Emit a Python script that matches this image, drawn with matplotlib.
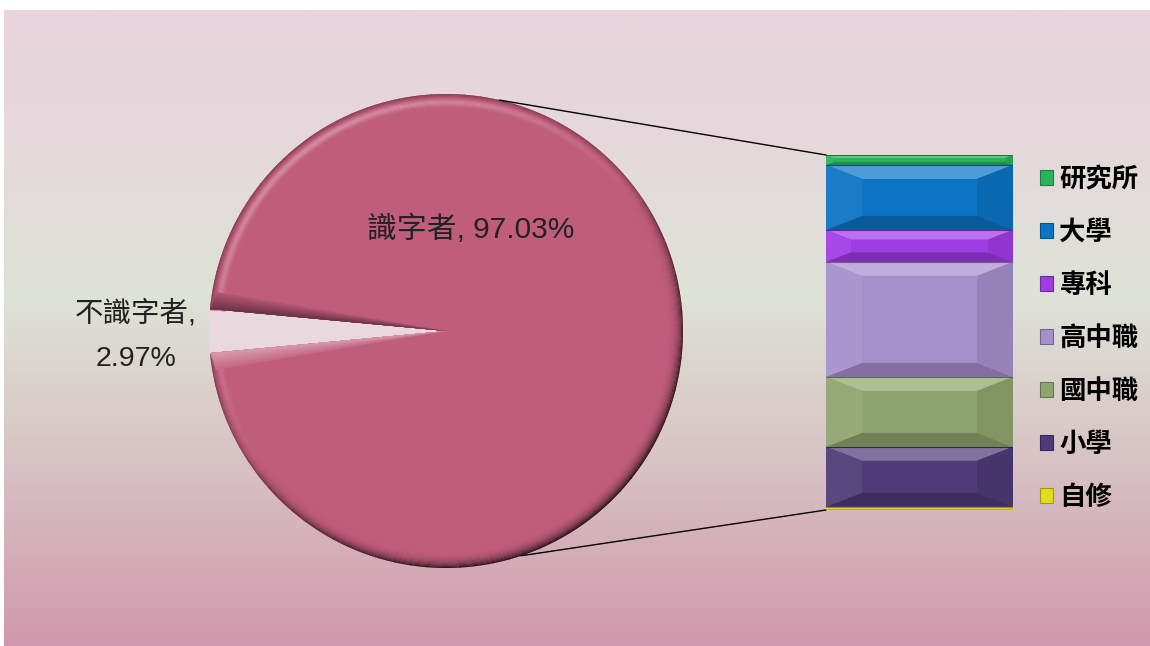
import numpy as np
import matplotlib.pyplot as plt
import matplotlib.colors as mcolors
from matplotlib.patches import Polygon, Rectangle, Wedge, ConnectionPatch

plt.rcParams['font.family'] = ['Liberation Sans', 'Noto Sans CJK TC', 'DejaVu Sans']

# pie: literate vs not literate
pie_labels = ['識字者', '不識字者']
pie_values = [97.03, 2.97]

# breakdown of literates (bottom to top of the stacked bar)
edu_levels = ['自修', '小學', '國中職', '高中職', '專科', '大學', '研究所']
edu_values = [0.9, 16.9, 19.7, 32.4, 9.0, 18.3, 2.8]
edu_colors = ['#E4DC1E', '#4E3B78', '#8FA56E', '#A690CC', '#A03CE6', '#0B74C4', '#2BB35A']

pie_color = '#C05C7C'


def shade(c, f):
    r, g, b = mcolors.to_rgb(c)
    if f > 0:
        return (r + (1 - r) * f, g + (1 - g) * f, b + (1 - b) * f)
    return (r * (1 + f), g * (1 + f), b * (1 + f))


W, H = 1150, 646
fig = plt.figure(figsize=(W / 100, H / 100), dpi=100)
fig.patch.set_facecolor('white')

# background gradient panel
bg = fig.add_axes([4 / W, 0, 1 - 4 / W, (H - 10) / H])
stops = np.array([0.0, 0.2, 0.45, 0.7, 1.0])
cols = np.array([(233, 212, 220), (229, 216, 220), (222, 226, 215), (216, 196, 198), (208, 152, 172)]) / 255
yy = np.linspace(0, 1, 300)
grad = np.stack([np.interp(yy, stops, cols[:, k]) for k in range(3)], axis=1)
bg.imshow(grad[:, None, :], aspect='auto', extent=[0, 1, 1, 0])
bg.set_axis_off()

# pie axes, radius 1 == 237 px
R = 237
cx, cy = 446, 331
ax = fig.add_axes([(cx - R) / W, (H - cy - R) / H, 2 * R / W, 2 * R / H])

start = 180 + pie_values[1] * 3.6 / 2
wedges, _ = ax.pie(pie_values, colors=[pie_color, '#EAD8DF'], startangle=start,
                   radius=1, center=(0, 0), frame=False)
ax.set_xlim(-1, 1)
ax.set_ylim(-1, 1)
ax.set_axis_off()
wedges[0].set_zorder(2)
t1, t2 = wedges[0].theta1, wedges[0].theta2

# bevel on the rim: light towards upper-left, dark towards lower-right
n_layers, lw_r = 14, 0.0045
step = 4
angs = np.arange(t1, t2, step)
for a0 in angs:
    a1_ = min(a0 + step, t2)
    s = np.cos(np.deg2rad((a0 + a1_) / 2 - 125))
    for i in range(n_layers):
        u = i / (n_layers - 1)  # 0 outer, 1 inner
        if s > 0:
            f = 0.32 * s * np.exp(-((u - 0.55) / 0.25) ** 2) - 0.3 * (1 - u) ** 4
        else:
            f = -0.5 * (-s) ** 0.7 * (1 - u) ** 1.6 - 0.3 * (1 - u) ** 4
        ax.add_patch(Wedge((0, 0), 1 - i * lw_r, a0, a1_ + 0.3, width=lw_r + 0.001, lw=0,
                           facecolor=shade(pie_color, f), zorder=3))

# edges of the missing slice
a1, a2 = np.deg2rad(t1), np.deg2rad(t2)
for k in range(8):
    d = 0.075 * (1 - k / 8)
    ax.add_patch(Polygon([(0, 0), (np.cos(a1), np.sin(a1)),
                          (np.cos(a1 + d) * 0.985, np.sin(a1 + d) * 0.985)],
                         closed=True, lw=0, facecolor=shade(pie_color, 0.08 + 0.04 * k), zorder=4))
    ax.add_patch(Polygon([(0, 0), (np.cos(a2), np.sin(a2)),
                          (np.cos(a2 - d) * 0.985, np.sin(a2 - d) * 0.985)],
                         closed=True, lw=0, facecolor=shade(pie_color, -0.08 - 0.05 * k), zorder=4))

ax.text(0.105, 0.43, f'{pie_labels[0]}, {pie_values[0]:.2f}%', ha='center', va='center',
        fontsize=21.5, color='#222222', zorder=5)
ax.text(-1.31, -0.02, f'{pie_labels[1]},\n{pie_values[1]:.2f}%', ha='center', va='center',
        fontsize=20.5, color='#222222', linespacing=1.95, zorder=5)

# stacked bar
bx0, by0, bw, bh = 826, 155, 187, 355
bax = fig.add_axes([bx0 / W, (H - by0 - bh) / H, bw / W, bh / H])
total = sum(edu_values)
bax.set_xlim(0, 1)
bax.set_ylim(0, total)
bax.set_axis_off()
bottoms = np.concatenate([[0], np.cumsum(edu_values)[:-1]])
bax.bar(0.5, edu_values, width=1, bottom=bottoms, color=edu_colors, linewidth=0)

px_y = total / bh
px_x = 1 / bw
for b, h, c in zip(bottoms, edu_values, edu_colors):
    dv = min(14 * px_y, h * 0.3)
    dh = min(36 * px_x, (dv / px_y) * 2.6 * px_x)
    top = b + h
    bax.add_patch(Polygon([(0, top), (1, top), (1 - dh, top - dv), (dh, top - dv)],
                          closed=True, lw=0, facecolor=shade(c, 0.28)))
    bax.add_patch(Polygon([(0, b), (1, b), (1 - dh, b + dv), (dh, b + dv)],
                          closed=True, lw=0, facecolor=shade(c, -0.22)))
    bax.add_patch(Polygon([(0, top), (dh, top - dv), (dh, b + dv), (0, b)],
                          closed=True, lw=0, facecolor=shade(c, 0.06)))
    bax.add_patch(Polygon([(1, top), (1 - dh, top - dv), (1 - dh, b + dv), (1, b)],
                          closed=True, lw=0, facecolor=shade(c, -0.1)))
    bax.axhline(top, color=shade(c, -0.35), lw=0.8)

# connector lines
for ang, yb in [(77, total), (-71.5, 0)]:
    a = np.deg2rad(ang)
    con = ConnectionPatch(xyA=(np.cos(a), np.sin(a)), coordsA=ax.transData,
                          xyB=(0, yb), coordsB=bax.transData, color='black', lw=1)
    fig.add_artist(con)

# legend
handles = [Rectangle((0, 0), 1, 1, facecolor=c, edgecolor=shade(c, -0.3), lw=0.8)
           for c in edu_colors[::-1]]
fig.legend(handles, edu_levels[::-1], loc='upper left', bbox_to_anchor=(1027 / W, 1 - 153 / H),
           frameon=False, prop={'family': ['Noto Sans CJK TC'], 'size': 19, 'weight': 'bold'},
           handlelength=0.48, handleheight=0.48, handletextpad=0.25, labelspacing=0.985, borderpad=0)

fig.savefig('out.png', dpi=100)
